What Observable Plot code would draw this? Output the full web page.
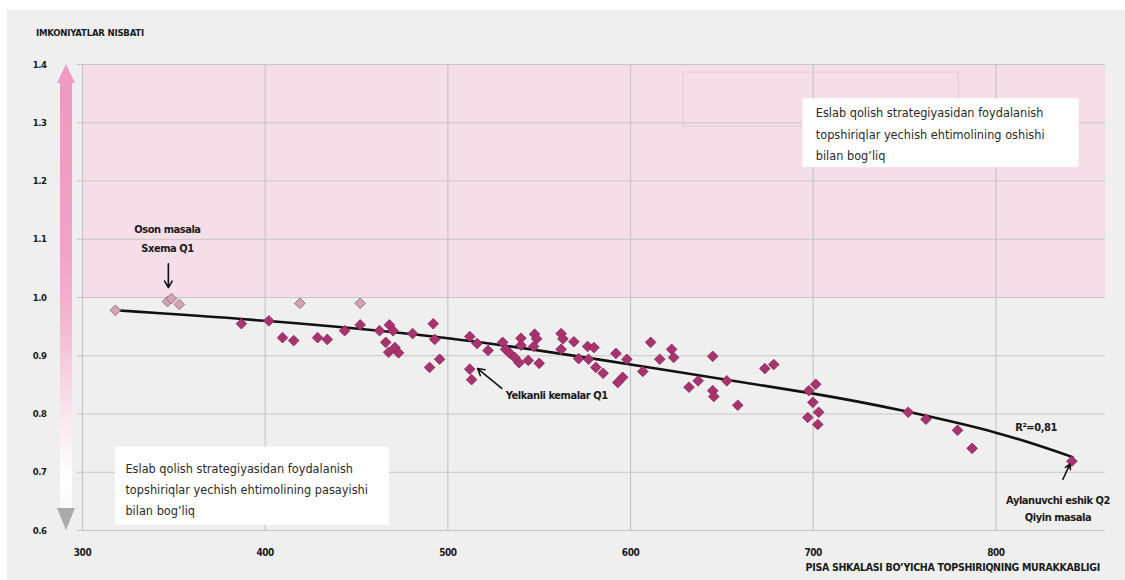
<!DOCTYPE html>
<html>
<head>
<meta charset="utf-8">
<script src="https://cdn.jsdelivr.net/npm/d3@7"></script>
<script src="https://cdn.jsdelivr.net/npm/@observablehq/plot@0.6"></script>
<style>
  html, body { margin: 0; padding: 0; background: #ffffff; }
  #wrap { position: absolute; left: 7px; top: 10px; width: 1118px; height: 570px; background: #efefef; overflow: hidden; }
  .narrow { font-family: "Liberation Sans Narrow", "DejaVu Sans Condensed", "Roboto", sans-serif; }
  #ytitle { position: absolute; left: 29px; top: 17px; font-size: 9.5px; font-weight: bold; color: #1a1a1a; white-space: nowrap; letter-spacing: -0.2px; }
  #xtitle { position: absolute; right: 25px; top: 551px; font-size: 10.5px; font-weight: bold; color: #1a1a1a; white-space: nowrap; letter-spacing: -0.3px; }
  #chart { position: absolute; left: 0; top: 0; }
  #chart svg text { letter-spacing: -0.45px; }
</style>
</head>
<body>
<div id="wrap">
  <div id="chart"></div>
  <div id="ytitle" class="narrow">IMKONIYATLAR NISBATI</div>
  <div id="xtitle" class="narrow">PISA SHKALASI BO’YICHA TOPSHIRIQNING MURAKKABLIGI</div>
</div>
<script>
// ---- scales / ticks ----
const xTicks = [300, 400, 500, 600, 700, 800];
const yTicks = [0.6, 0.7, 0.8, 0.9, 1.0, 1.1, 1.2, 1.3, 1.4];
const xDomain = [300, 860];
const yDomain = [0.6, 1.4];
const highZone = [1.0, 1.4];

// ---- highlighted (pale) items ----
const paleDifficulty = [318, 346.5, 348.7, 353, 419, 452];
const paleOdds = [0.978, 0.993, 0.998, 0.988, 0.990, 0.990];

// ---- other items ----
const itemDifficulty = [
  387, 402, 409.5, 415.6, 428.7, 434, 443.5, 452, 462.6, 468, 470, 466, 467.6, 471, 473,
  480.7, 492, 492.8, 490, 495.5, 512, 516, 512, 513, 522, 530, 531.6, 534, 536.6, 539,
  540, 540, 544, 547.5, 548.6, 547, 550, 562, 563, 562, 569, 571.6, 576.5, 580, 577,
  581, 585, 592, 598, 593, 595.7, 606.7, 611, 616, 622.5, 623.6, 632, 637, 645, 645,
  645.6, 652.7, 658.7, 673.5, 678.4, 697.6, 701.4, 699.8, 703, 697, 702.5, 752, 761.7,
  779, 787, 841.6
];
const itemOdds = [
  0.955, 0.960, 0.931, 0.926, 0.931, 0.928, 0.943, 0.953, 0.943, 0.953, 0.943, 0.923, 0.906, 0.914, 0.905,
  0.938, 0.955, 0.928, 0.880, 0.894, 0.933, 0.921, 0.877, 0.859, 0.909, 0.923, 0.911, 0.904, 0.897, 0.888,
  0.930, 0.918, 0.892, 0.937, 0.929, 0.916, 0.887, 0.938, 0.929, 0.911, 0.924, 0.895, 0.916, 0.914, 0.894,
  0.880, 0.870, 0.904, 0.894, 0.854, 0.863, 0.873, 0.923, 0.894, 0.911, 0.897, 0.846, 0.857, 0.899, 0.840,
  0.830, 0.857, 0.815, 0.878, 0.885, 0.840, 0.851, 0.820, 0.803, 0.794, 0.782, 0.803, 0.791,
  0.772, 0.741, 0.719
];

// ---- trend line ----
const fitDifficulty = [318, 400, 500, 600, 700, 750, 800, 842];
const fitOdds = [0.978, 0.960, 0.930, 0.885, 0.835, 0.805, 0.768, 0.726];

// ---- annotations ----
const labelTexts = ["Oson masala", "Sxema Q1", "Yelkanli kemalar Q1", "R²=0,81", "Aylanuvchi eshik Q2", "Qiyin masala"];
const labelX = [346.5, 346.5, 531.7, 822, 834, 834];
const labelY = [1.117, 1.084, 0.832, 0.777, 0.652, 0.623];
const labelAnchor = ["middle", "middle", "start", "middle", "middle", "middle"];

const arrowX1 = [347, 529.5, 836.7];
const arrowY1 = [1.058, 0.844, 0.688];
const arrowX2 = [347, 516.3, 840.5];
const arrowY2 = [1.017, 0.878, 0.714];

const boxX1 = [694.3, 318];
const boxX2 = [845.5, 468];
const boxY1 = [1.223, 0.609];
const boxY2 = [1.341, 0.743];
const boxTexts = [
  "Eslab qolish strategiyasidan foydalanish\ntopshiriqlar yechish ehtimolining oshishi\nbilan bog’liq",
  "Eslab qolish strategiyasidan foydalanish\ntopshiriqlar yechish ehtimolining pasayishi\nbilan bog’liq"
];
const boxTextX = [701.4, 323.5];
const boxTextY = [1.2845, 0.6745];

const frameX = [629, 779.7];
const frameY = [1.293, 1.386];

// ---- build tables ----
const FONT = '"Liberation Sans Narrow", "DejaVu Sans Condensed", Roboto, sans-serif';
const pale = paleDifficulty.map((x, i) => ({x, y: paleOdds[i]}));
const items = itemDifficulty.map((x, i) => ({x, y: itemOdds[i]}));
const fit = fitDifficulty.map((x, i) => ({x, y: fitOdds[i]}));
const labels = labelTexts.map((t, i) => ({t, x: labelX[i], y: labelY[i], a: labelAnchor[i]}));
const arrows = arrowX1.map((x1, i) => ({x1, y1: arrowY1[i], x2: arrowX2[i], y2: arrowY2[i]}));
const boxes = boxX1.map((x1, i) => ({x1, x2: boxX2[i], y1: boxY1[i], y2: boxY2[i], t: boxTexts[i], tx: boxTextX[i], ty: boxTextY[i]}));

const chart = Plot.plot({
  width: 1118,
  height: 570,
  marginLeft: 75,
  marginRight: 20,
  marginTop: 54,
  marginBottom: 50,
  style: {background: "transparent", fontFamily: FONT, color: "#1a1a1a", overflow: "visible"},
  x: {domain: xDomain, label: null},
  y: {domain: yDomain, label: null},
  marks: [
    Plot.rect([highZone], {x1: () => xDomain[0], x2: () => xDomain[1], y1: d => d[0], y2: d => d[1], fill: "#f5dee7"}),
    Plot.rect([frameX], {x1: d => d[0], x2: d => d[1], y1: () => frameY[0], y2: () => frameY[1], fill: "none", stroke: "#e2cbd5", strokeWidth: 1}),
    Plot.gridX(xTicks, {stroke: "#c6c6c6", strokeOpacity: 1, strokeWidth: 1.2}),
    Plot.gridY(yTicks, {stroke: "#c6c6c6", strokeOpacity: 1, strokeWidth: 1.2}),
    Plot.axisY(yTicks, {tickSize: 5, tickPadding: 31, stroke: "#c6c6c6", fill: "#1a1a1a", fontWeight: "bold", fontSize: 9.5, tickFormat: d3.format(".1f")}),
    Plot.axisX(xTicks, {tickSize: 0, tickPadding: 18, fill: "#1a1a1a", fontWeight: "bold", fontSize: 10, tickFormat: d => String(d)}),
    Plot.rect(boxes, {x1: "x1", x2: "x2", y1: "y1", y2: "y2", fill: "#ffffff"}),
    Plot.text(boxes, {x: "tx", y: "ty", text: "t", textAnchor: "start", lineAnchor: "middle", lineHeight: 1.67, fontSize: 12.6, fill: "#2a2a2a"}),
    Plot.line(fit, {x: "x", y: "y", curve: "natural", stroke: "#111111", strokeWidth: 2.6}),
    Plot.dot(pale, {x: "x", y: "y", symbol: "diamond2", r: 4.8, fill: "#d9a1b8", stroke: "#8c7a83", strokeWidth: 1}),
    Plot.dot(items, {x: "x", y: "y", symbol: "diamond2", r: 4.8, fill: "#a8336f", stroke: "#86285a", strokeWidth: 0.8}),
    Plot.arrow(arrows, {x1: "x1", y1: "y1", x2: "x2", y2: "y2", stroke: "#111111", strokeWidth: 1.6, headLength: 7}),
    Plot.text(labels.filter(d => d.a === "middle"), {x: "x", y: "y", text: "t", textAnchor: "middle", fontSize: 11, fontWeight: "bold", fill: "#1a1a1a"}),
    Plot.text(labels.filter(d => d.a === "start"), {x: "x", y: "y", text: "t", textAnchor: "start", fontSize: 11, fontWeight: "bold", fill: "#1a1a1a"})
  ]
});
document.getElementById("chart").appendChild(chart);

// box paragraphs keep normal spacing
d3.select(chart).selectAll("text").filter(function() { return this.textContent.startsWith("Eslab"); })
  .style("letter-spacing", "0px");

// ---- decorative vertical gradient arrow on the left ----
const ys = chart.scale("y");
const yTop = ys.apply(yDomain[1]);
const yBot = ys.apply(yDomain[0]);
const cx = 59;
const svg = d3.select(chart);
const defs = svg.append("defs");
const grad = defs.append("linearGradient")
  .attr("id", "arrowGrad").attr("gradientUnits", "userSpaceOnUse")
  .attr("x1", 0).attr("x2", 0).attr("y1", yTop).attr("y2", yBot);
[[0, "#ef98c1"], [0.4, "#f0a2c7"], [0.55, "#f3b6d2"], [0.7, "#f8d9e7"], [0.82, "#fdf3f7"], [0.9, "#ffffff"], [1, "#f1f1f1"]]
  .forEach(([o, c]) => grad.append("stop").attr("offset", o).attr("stop-color", c));
const g = svg.insert("g", ":first-child");
g.append("rect").attr("x", cx - 6).attr("y", yTop + 17).attr("width", 12).attr("height", (yBot - 21) - (yTop + 17)).attr("fill", "url(#arrowGrad)");
g.append("path").attr("d", `M${cx - 9},${yTop + 19}L${cx},${yTop}L${cx + 9},${yTop + 19}Z`).attr("fill", "#ef9bc3");
g.append("path").attr("d", `M${cx - 9},${yBot - 22}L${cx + 9},${yBot - 22}L${cx},${yBot}Z`).attr("fill", "#aaaaaa");
</script>
</body>
</html>
